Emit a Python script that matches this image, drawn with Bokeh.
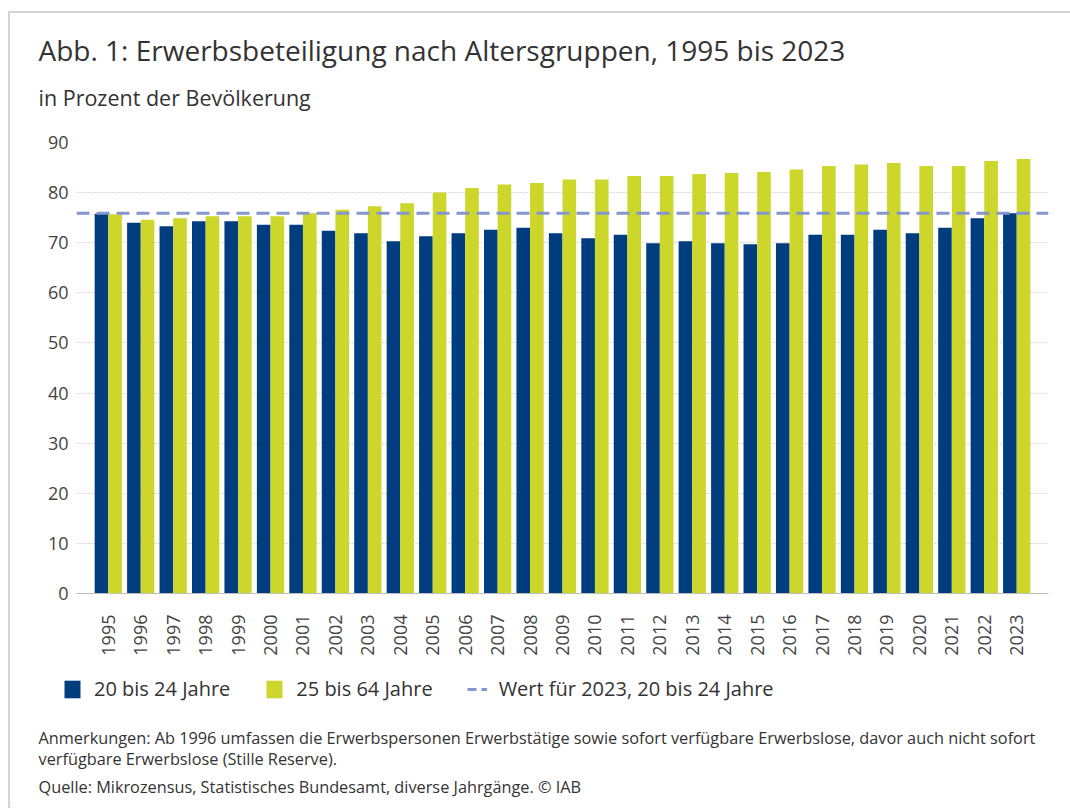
import math
from bokeh.plotting import figure
from bokeh.layouts import column
from bokeh.models import (ColumnDataSource, FactorRange, Legend, LegendItem, Span,
                          Label, Range1d)
from bokeh.transform import dodge
from bokeh.embed import file_html
from bokeh.resources import INLINE

# ---------------- data ----------------
years = [str(y) for y in range(1995, 2024)]
age_20_24 = [75.8, 74.0, 73.3, 74.3, 74.3, 73.6, 73.6, 72.4, 71.9, 70.3,
             71.3, 71.9, 72.6, 73.0, 71.9, 70.9, 71.6, 69.9, 70.3, 69.9,
             69.7, 69.9, 71.6, 71.6, 72.6, 71.9, 73.0, 74.9, 75.9]
age_25_64 = [75.7, 74.6, 74.9, 75.3, 75.3, 75.3, 75.9, 76.6, 77.3, 77.9,
             80.0, 80.9, 81.6, 81.9, 82.6, 82.6, 83.3, 83.3, 83.7, 83.9,
             84.1, 84.6, 85.3, 85.6, 85.9, 85.3, 85.3, 86.3, 86.7]
ref_value = age_20_24[-1]
series_names = ["20 bis 24 Jahre", "25 bis 64 Jahre", "Wert für 2023, 20 bis 24 Jahre"]
y_ticks = [0, 10, 20, 30, 40, 50, 60, 70, 80, 90]

title_text = "Abb. 1: Erwerbsbeteiligung nach Altersgruppen, 1995 bis 2023"
subtitle_text = "in Prozent der Bevölkerung"
note_lines = [
    "Anmerkungen: Ab 1996 umfassen die Erwerbspersonen Erwerbstätige sowie sofort verfügbare Erwerbslose, davor auch nicht sofort",
    "verfügbare Erwerbslose (Stille Reserve).",
    "Quelle: Mikrozensus, Statistisches Bundesamt, diverse Jahrgänge.  © IAB",
]

BLUE = "#003D7E"
YELLOW = "#CDD62A"
DASH = "#8496CE"
FONT = "Open Sans"
TXT = "#333333"
W = 1060


def strip(height):
    f = figure(width=W, height=height, x_range=Range1d(0, W), y_range=Range1d(0, height),
               output_backend="svg", toolbar_location=None, x_axis_type=None,
               y_axis_type=None, min_border=0)
    f.title.visible = False
    f.outline_line_color = None
    f.xgrid.grid_line_color = None
    f.ygrid.grid_line_color = None
    f.frame_align = False
    return f


def lab(f, text, x, y, size):
    f.add_layout(Label(x=x, y=y, x_units="screen", y_units="screen", text=text,
                       text_font=FONT, text_font_size=size, text_color=TXT,
                       text_baseline="alphabetic"))


# ---------------- title strip ----------------
t = strip(115)
lab(t, title_text, 28, 79, "28px")
lab(t, subtitle_text, 28, 31, "21.5px")

# ---------------- main chart ----------------
src = ColumnDataSource(dict(years=years, a=age_20_24, b=age_25_64))
p = figure(width=W, height=532,
           x_range=FactorRange(*years, range_padding=0.48, range_padding_units="absolute"),
           y_range=(0, 90), output_backend="svg", toolbar_location=None,
           min_border_left=66, min_border_right=22, min_border_top=14,
           min_border_bottom=67)
p.title.visible = False
p.frame_align = False

r1 = p.vbar(x=dodge("years", -0.21, range=p.x_range), top="a", width=0.42,
            source=src, color=BLUE, line_color=None)
r2 = p.vbar(x=dodge("years", 0.21, range=p.x_range), top="b", width=0.42,
            source=src, color=YELLOW, line_color=None)

p.add_layout(Span(location=ref_value, dimension="width", line_color=DASH,
                  line_width=3, line_dash="13 7"))

p.outline_line_color = None
p.xgrid.grid_line_color = None
p.ygrid.grid_line_color = "#b5b5b5"
p.ygrid.grid_line_dash = "1 2"
p.ygrid.grid_line_width = 1
p.yaxis.ticker = y_ticks
p.yaxis.axis_line_color = None
p.yaxis.major_tick_line_color = None
p.yaxis.minor_tick_line_color = None
p.yaxis.major_label_standoff = 2
p.yaxis.major_label_text_font = FONT
p.yaxis.major_label_text_font_size = "18px"
p.yaxis.major_label_text_color = "#444444"

p.xaxis.axis_line_color = "#bdbdbd"
p.xaxis.major_tick_line_color = None
p.xaxis.minor_tick_line_color = None
p.xaxis.major_label_orientation = math.pi / 2
p.xaxis.major_label_standoff = 15
p.xaxis.major_label_text_font = FONT
p.xaxis.major_label_text_font_size = "18px"
p.xaxis.major_label_text_color = "#444444"

# ---------------- legend + notes strip ----------------
q = strip(148)
# legend keys: one point each, drawn outside the visible range
k1 = q.vbar(x=[-500], top=[1], width=1, color=BLUE, line_color=None)
k2 = q.vbar(x=[-500], top=[1], width=1, color=YELLOW, line_color=None)
k3 = q.line(x=[-500, -499], y=[1, 1], line_color=DASH, line_width=3, line_dash="9 5")

legend = Legend(items=[LegendItem(label=series_names[0], renderers=[k1]),
                       LegendItem(label=series_names[1], renderers=[k2]),
                       LegendItem(label=series_names[2], renderers=[k3])],
                orientation="horizontal", location=(52, 106),
                glyph_width=20, glyph_height=22, label_height=22,
                label_standoff=12, spacing=34, padding=0, margin=0,
                border_line_color=None, background_fill_alpha=0,
                label_text_font=FONT, label_text_font_size="20px",
                label_text_color=TXT)
q.add_layout(legend, "center")

for line, yy in zip(note_lines, [71, 50, 22]):
    lab(q, line, 28, yy, "16.3px")

layout = column(t, p, q, spacing=0)
layout.styles = {"border-top": "2px solid #d4d4d4", "border-left": "2px solid #d4d4d4",
                 "margin-left": "8px", "margin-top": "11px"}

open("out.html", "w").write(file_html(layout, INLINE))
